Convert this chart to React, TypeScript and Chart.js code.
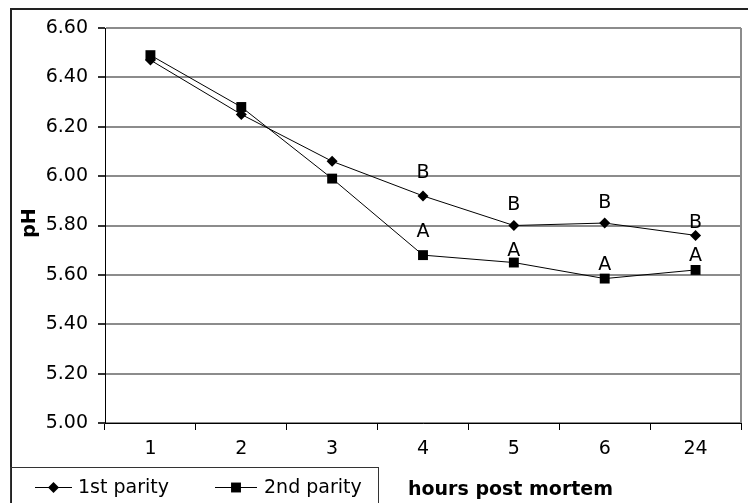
import React, { useEffect, useRef } from "react";
import { Chart, registerables } from "chart.js";

Chart.register(...registerables);

const categories = ["1", "2", "3", "4", "5", "6", "24"];
const firstParity = [6.47, 6.25, 6.06, 5.92, 5.8, 5.81, 5.76];
const secondParity = [6.49, 6.28, 5.99, 5.68, 5.65, 5.585, 5.62];
const seriesNames = ["1st parity", "2nd parity"];
const lettersFirst = ["", "", "", "B", "B", "B", "B"];
const lettersSecond = ["", "", "", "A", "A", "A", "A"];
const yTitle = "pH";
const xTitle = "hours post mortem";

const FONT = "'DejaVu Sans', sans-serif";

export default function App() {
  const ref = useRef<HTMLCanvasElement | null>(null);

  useEffect(() => {
    const canvas = ref.current;
    if (!canvas) return;

    const letterOffsetsFirst = [0, 0, 0, 23, 20, 20, 12];
    const letterOffsetsSecond = [0, 0, 0, 23, 11, 14, 14];

    const decor = {
      id: "decor",
      beforeDraw(chart: any) {
        const ctx = chart.ctx;
        ctx.save();
        ctx.fillStyle = "#fff";
        ctx.fillRect(0, 0, chart.width, chart.height);
        ctx.restore();
      },
      afterDraw(chart: any) {
        const ctx = chart.ctx;
        const ca = chart.chartArea;
        ctx.save();
        ctx.strokeStyle = "#8c8c8c";
        ctx.lineWidth = 2;
        ctx.beginPath();
        ctx.moveTo(ca.right, ca.top);
        ctx.lineTo(ca.right, ca.bottom);
        ctx.stroke();

        ctx.fillStyle = "#000";
        ctx.font = `19px ${FONT}`;
        ctx.textAlign = "center";
        ctx.textBaseline = "middle";
        const sets = [
          { letters: lettersFirst, offs: letterOffsetsFirst, di: 0 },
          { letters: lettersSecond, offs: letterOffsetsSecond, di: 1 },
        ];
        sets.forEach((s) => {
          const meta = chart.getDatasetMeta(s.di);
          meta.data.forEach((pt: any, i: number) => {
            if (!s.letters[i]) return;
            ctx.fillText(s.letters[i], pt.x, pt.y - s.offs[i]);
          });
        });

        ctx.save();
        ctx.translate(30, 223);
        ctx.rotate(-Math.PI / 2);
        ctx.font = `bold 19px ${FONT}`;
        ctx.textAlign = "center";
        ctx.textBaseline = "middle";
        ctx.fillText(yTitle, 0, 0);
        ctx.restore();

        ctx.font = `bold 19px ${FONT}`;
        ctx.textAlign = "left";
        ctx.textBaseline = "alphabetic";
        ctx.fillText(xTitle, 408, 495);

        ctx.strokeStyle = "#222";
        ctx.lineWidth = 2;
        ctx.strokeRect(11, 9, 760, 520);

        ctx.strokeStyle = "#333";
        ctx.lineWidth = 1;
        ctx.strokeRect(10.5, 467.5, 368, 60);

        const items = [
          { x1: 35, x2: 72, text: 78, style: "rectRot", r: 5.5 },
          { x1: 215, x2: 257, text: 264, style: "rect", r: 7 },
        ];
        const ly = 487.5;
        items.forEach((it, i) => {
          ctx.strokeStyle = "#000";
          ctx.lineWidth = 1;
          ctx.beginPath();
          ctx.moveTo(it.x1, ly);
          ctx.lineTo(it.x2, ly);
          ctx.stroke();
          ctx.fillStyle = "#000";
          const cx = (it.x1 + it.x2) / 2;
          ctx.beginPath();
          if (it.style === "rectRot") {
            ctx.moveTo(cx - it.r, ly);
            ctx.lineTo(cx, ly - it.r);
            ctx.lineTo(cx + it.r, ly);
            ctx.lineTo(cx, ly + it.r);
          } else {
            const h = it.r * Math.SQRT1_2;
            ctx.rect(cx - h, ly - h, 2 * h, 2 * h);
          }
          ctx.closePath();
          ctx.fill();
          ctx.font = `19px ${FONT}`;
          ctx.textAlign = "left";
          ctx.textBaseline = "middle";
          ctx.fillText(seriesNames[i], it.text, ly + 1);
        });
        ctx.restore();
      },
    };

    const chart = new Chart(canvas, {
      type: "line",
      data: {
        labels: categories,
        datasets: [
          {
            label: seriesNames[0],
            data: firstParity,
            borderColor: "#000",
            backgroundColor: "#000",
            borderWidth: 1,
            pointStyle: "rectRot",
            pointRadius: 5.5,
            pointBorderWidth: 0,
            tension: 0,
          },
          {
            label: seriesNames[1],
            data: secondParity,
            borderColor: "#000",
            backgroundColor: "#000",
            borderWidth: 1,
            pointStyle: "rect",
            pointRadius: 7,
            pointBorderWidth: 0,
            tension: 0,
          },
        ],
      },
      options: {
        responsive: false,
        animation: false,
        devicePixelRatio: 1,
        layout: { padding: { top: 28, right: 2, left: 0, bottom: 0 } },
        plugins: {
          legend: { display: false },
          tooltip: { enabled: false },
        },
        scales: {
          y: {
            min: 5,
            max: 6.6,
            ticks: {
              stepSize: 0.2,
              callback: (v: any) => Number(v).toFixed(2),
              color: "#000",
              font: { family: FONT, size: 19 },
              padding: 10,
            },
            grid: {
              color: "#8c8c8c",
              tickColor: "#333",
              tickLength: 7,
              lineWidth: 2,
            },
            border: { color: "#000", width: 1 },
            afterFit: (s: any) => {
              s.width = 105;
            },
          },
          x: {
            offset: true,
            ticks: {
              color: "#000",
              font: { family: FONT, size: 19 },
              padding: 8,
            },
            grid: {
              offset: true,
              drawOnChartArea: false,
              tickLength: 7,
              tickColor: "#000",
            },
            border: { color: "#000", width: 1 },
            afterFit: (s: any) => {
              s.height = 80;
            },
          },
        },
      },
      plugins: [decor],
    });

    return () => chart.destroy();
  }, []);

  return (
    <div style={{ position: "fixed", left: 0, top: 0, width: 748, height: 503 }}>
      <canvas ref={ref} width={748} height={503} />
    </div>
  );
}
